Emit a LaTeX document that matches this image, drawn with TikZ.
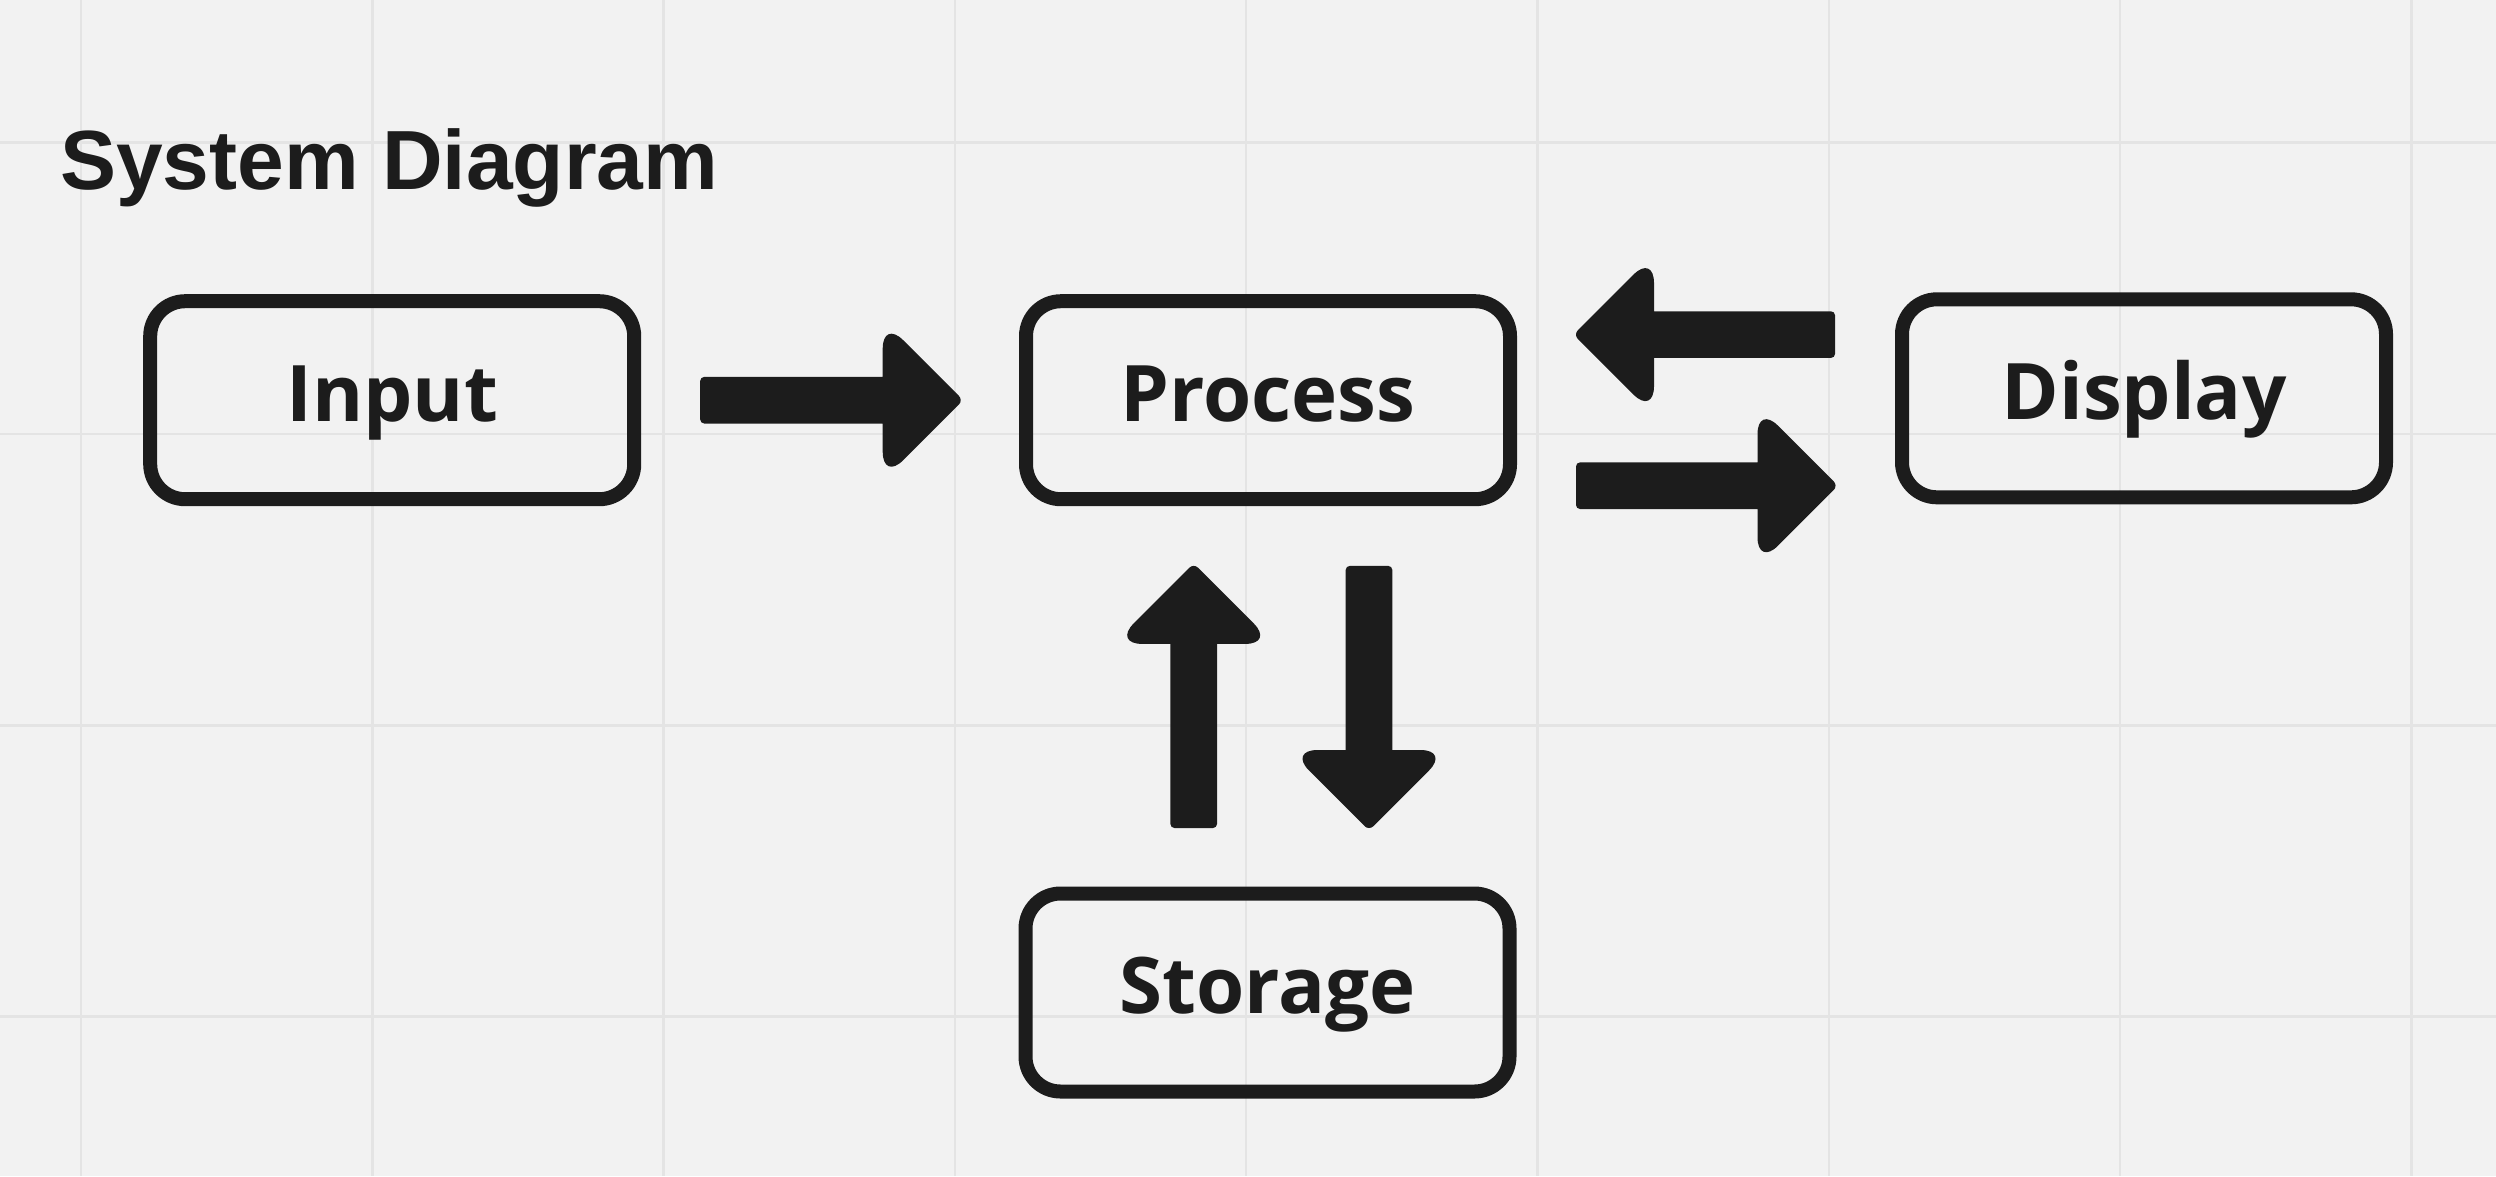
\documentclass[tikz,border=0pt]{standalone}
\usepackage{fontspec}
\usetikzlibrary{calc}
\newfontfamily\titlefont{Liberation Sans}
\newfontfamily\boxfont{Open Sans}
\definecolor{bg}{HTML}{F2F2F2}
\definecolor{gridc}{HTML}{E4E4E4}
\definecolor{ink}{HTML}{1C1C1C}
\tikzset{
  gridline/.style={draw=gridc, line width=2.5pt},
  box/.style={draw=ink, line width=14pt, rounded corners=35pt, outer sep=0pt,
    inner sep=0pt, minimum width=484pt, minimum height=198pt,
    text height=60pt, text depth=18pt, text=ink,
    font=\boxfont\bfseries\fontsize{78}{90}\selectfont},
  titletext/.style={anchor=base west, inner sep=0pt, outer sep=0pt, text=ink,
    font=\titlefont\bfseries\fontsize{84}{96}\selectfont},
  arrowfill/.style={fill=ink}
}
\newcommand\blockarrow[2]{%
  \coordinate (ba-b) at ($(#2)!80.5pt!(#1)$);
  \fill[arrowfill]
    ($(#1)!23.3pt!90:(#2)$) [sharp corners]
    -- ($(ba-b)!23.3pt!90:(#2)$) [rounded corners=29pt]
    -- ($(ba-b)!80.5pt!90:(#2)$) [rounded corners=6pt]
    -- (#2) [rounded corners=29pt]
    -- ($(ba-b)!80.5pt!-90:(#2)$) [sharp corners]
    -- ($(ba-b)!23.3pt!-90:(#2)$) [rounded corners=4pt]
    -- ($(#1)!23.3pt!-90:(#2)$)
    -- cycle;}
\begin{document}
\begin{tikzpicture}[x=1pt,y=-1pt]
  \useasboundingbox (0,0) rectangle (2496,1176);
  \fill[bg] (0,0) rectangle (2496,1176);
  % grid
  \foreach \k in {0,...,8} {
    \draw[gridline] ({81+291.3*\k},0) -- ({81+291.3*\k},1176);
  }
  \foreach \k in {0,...,3} {
    \draw[gridline] (0,{142.7+291.3*\k}) -- (2496,{142.7+291.3*\k});
  }
  % title
  \node[titletext] (title) at (60,189.3) {System Diagram};
  % boxes
  \node[box] (input)   at (392.2,400.2)  {Input};
  \node[box] (process) at (1268,400.2)   {Process};
  \node[box] (display) at (2144,398.3)   {Display};
  \node[box] (storage) at (1267.5,992.5) {Storage};
  % connector end points
  \coordinate (a1s) at ($(input.east)+(66,0)$);
  \coordinate (a1t) at ($(process.west)+(-62.8,0)$);
  \coordinate (a2s) at ($(process.east)+(66,85.5)$);
  \coordinate (a2t) at ($(display.west)+(-64,87.4)$);
  \coordinate (a3s) at ($(display.west)+(-67,-63.7)$);
  \coordinate (a3t) at ($(process.east)+(63.5,-65.6)$);
  \coordinate (a4s) at ($(storage.north)+(-73.8,-65.5)$);
  \coordinate (a4t) at ($(process.south)+(-74.3,64.2)$);
  \coordinate (a5s) at ($(process.south)+(101,66.7)$);
  \coordinate (a5t) at ($(storage.north)+(101.5,-63)$);
  % connectors
  \blockarrow{a1s}{a1t}
  \blockarrow{a2s}{a2t}
  \blockarrow{a3s}{a3t}
  \blockarrow{a4s}{a4t}
  \blockarrow{a5s}{a5t}
\end{tikzpicture}
\end{document}
